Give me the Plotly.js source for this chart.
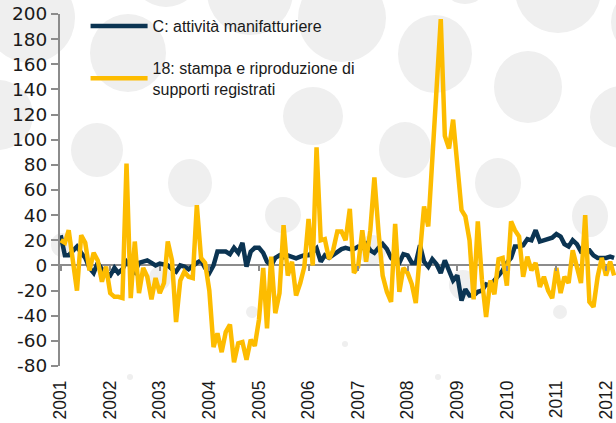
<!DOCTYPE html>
<html>
<head>
<meta charset="utf-8">
<script src="https://cdn.plot.ly/plotly-3.0.1.min.js"></script>
<style>html,body{margin:0;padding:0;background:#fff;}#chart{width:616px;height:423px;}</style>
</head>
<body>
<div id="chart"></div>
<script>
// Monthly series starting Jan 2001
const startYear = 2001;
const seriesNames = ["C: attività manifatturiere", "18: stampa e riproduzione di<br>supporti registrati"];
const manifatturiere = [
 24, 8, 8, 12, 15, 10, 6, -2, -6, 2, -3, -6,
 -8, -2, -6, -3, 3, -1, -5, 2, 3, 4, 2, 0,
 1.5, 1, 0, -3, -5, 0, -1, -3, 0, 2, 4, -2,
 -6, 0, 11, 11, 11, 9, 14, 10, 18, -1, 11, 14,
 14, 10, 3, 0, 6, 8, 6.5, 8, 7, 5.6, 7, 8,
 8, 11, 13.6, 3, 8, 6, 8, 11, 13, 14, 13, 13,
 15, 14, 17, 12, 10, 14, 17, 13, 6, 3, 2, 9,
 8, 2, 2, 16, 3, -1, 5, 1, -6, 4, -4, -12,
 -8, -28, -19, -24, -24, -21, -20, -15, -16, -12, -8, -4,
 2, 6, 15, 15, 16, 21, 20, 28, 19, 20, 21, 22,
 25, 23, 17, 15, 20, 17, 11, 12, 12, 8, 6, 6,
 6, 7, 6
];
const stampa = [
 20, 18, 28, 5, -20, 24, 18, -4, 10, 4, -13, -1,
 -22, -25, -25, -26, 81, -26, 19, -22, -2, -9, -27, -10,
 -22, -14, 19, 4, -45, -12, -5, -9, -10, 48, 6, 2,
 -20, -65, -54, -69, -53, -47, -77, -62, -61, -75, -59, -64,
 -43, -2, -50, 7, -38, -22, 32, -8, 3, -24, -14, -1,
 37, 0, 94, 20, 21, 5, 12, 27, 27, 20, 45, -6,
 -1, 28, 3, 28, 70, 26, -8, -21, -29, 33, -21, -2,
 -6, -15, -30, 10, 47, 31, 88, 140, 196, 103, 93, 116,
 75, 44, 39, 20, -27, 35, -11, -41, -12, -23, 5, 6,
 -16, 35, 28, 23, -9, 7, -4, 2, -17, -9, -20, -26,
 -2, -22, -9, -14, 12, 0, -14, 40, -29, -33, -9, 6,
 -8, 3, -8
];
const yTickVals = [-80, -60, -40, -20, 0, 20, 40, 60, 80, 100, 120, 140, 160, 180, 200];
const yTickText = yTickVals.map(v => String(v));

function monthDates(n) {
  const out = [];
  for (let i = 0; i < n; i++) {
    const y = startYear + Math.floor(i / 12);
    const m = (i % 12) + 1;
    out.push(y + '-' + (m < 10 ? '0' + m : m) + '-01');
  }
  return out;
}
const dates = monthDates(manifatturiere.length);

// decorative background discs, given in page pixels [cx, cy, rx, ry]
const discs = [
 [30,18,45,45],[128,53,38,39],[166,-28,35,35],[250,-8,43,43],[342,18,44,44],
 [435,54,37,39],[465,-20,24,24],[558,-10,43,43],[528,87,34,36],[622,117,32,31],
 [645,22,34,34],[313,116,30,29],[405,150,26,28],[498,183,23,25],[590,216,18,21],
 [97,150,26,27],[190,183,22,24],[283,215,18,18],[62,245,11,12],[-2,115,35,35],
 [372,250,14,15],[463,285,14,15],[160,278,11,12],[252,312,6,6],[560,312,7,7],
 [345,344,3,3],[130,377,3,3],[438,377,3,3]
];
const L = 60, R = 616, T = 14, B = 366;
const shapes = discs.map(d => ({
  type: 'circle', xref: 'paper', yref: 'paper', layer: 'below',
  x0: (d[0] - d[2] - L) / (R - L), x1: (d[0] + d[2] - L) / (R - L),
  y0: (B - (d[1] + d[3])) / (B - T), y1: (B - (d[1] - d[3])) / (B - T),
  fillcolor: '#efefef', line: {width: 0}
}));

const traces = [
  {x: dates, y: manifatturiere, name: seriesNames[0], type: 'scatter', mode: 'lines',
   line: {color: '#0b3452', width: 4.5}, xaxis: 'x', yaxis: 'y', legendgroup: 'a'},
  {x: dates, y: stampa, name: seriesNames[1], type: 'scatter', mode: 'lines',
   line: {color: '#fdbc00', width: 4.5}, xaxis: 'x2', yaxis: 'y', legendgroup: 'b'}
];

const xr = ['2000-12-27', '2012-03-15'];
const layout = {
  width: 616, height: 423,
  margin: {l: 60, r: 0, t: 14, b: 57, pad: 0},
  paper_bgcolor: '#ffffff', plot_bgcolor: 'rgba(0,0,0,0)',
  showlegend: true,
  legend: {x: 0.046, y: 1.014, xanchor: 'left', yanchor: 'top', bgcolor: 'rgba(0,0,0,0)',
    font: {family: 'Liberation Sans, Arial, sans-serif', size: 16, color: '#1a1a1a'},
    traceorder: 'grouped', tracegroupgap: 18, itemwidth: 57},
  xaxis: {type: 'date', range: xr, tick0: '2001-01-01', dtick: 'M12', tickformat: '%Y',
    tickangle: -90, showgrid: false, zeroline: false, showline: false, ticks: '',
    ticklabelstandoff: 10,
    tickfont: {family: 'Liberation Sans, Arial, sans-serif', size: 17.5, color: '#1a1a1a'}},
  xaxis2: {type: 'date', matches: 'x', overlaying: 'x', anchor: 'free', position: 80 / 280,
    range: xr, tick0: '2001-01-01', dtick: 'M12', showticklabels: false, showgrid: false,
    zeroline: false, showline: false, ticks: 'outside', ticklen: 5, tickwidth: 2, tickcolor: '#8c8c8c'},
  yaxis: {range: [-80, 200], tickmode: 'array', tickvals: yTickVals, ticktext: yTickText, showgrid: false,
    zeroline: true, zerolinecolor: '#8c8c8c', zerolinewidth: 2,
    showline: true, linecolor: '#8c8c8c', linewidth: 2,
    ticks: 'outside', ticklen: 7, tickwidth: 2, tickcolor: '#8c8c8c',
    tickfont: {family: 'DejaVu Sans, sans-serif', size: 18.5, color: '#1a1a1a'}},
  shapes: shapes
};
Plotly.newPlot('chart', traces, layout, {displayModeBar: false, staticPlot: true});
</script>
</body>
</html>
